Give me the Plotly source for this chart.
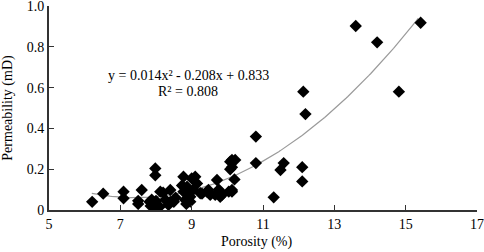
import numpy as np
import plotly.graph_objects as go

porosity = [6.21, 6.52, 7.09, 7.09, 7.6, 7.5, 7.5, 7.98, 7.98,
            7.85, 7.9, 7.95, 8.0, 8.05, 7.88, 8.1, 7.82,
            8.12, 8.2, 8.26, 8.4, 8.5, 8.35, 8.55, 8.4,
            8.77, 8.73, 8.87, 9.0, 9.15, 9.1,
            8.77, 8.91, 8.96, 8.82, 8.96, 8.85, 9.05,
            9.24, 9.29, 9.43, 9.52, 9.66, 9.47,
            9.71, 9.8, 9.85, 9.76, 9.8,
            10.13, 10.04, 10.13, 10.2,
            10.08, 10.13, 10.22, 10.13, 10.08,
            10.8, 10.8, 11.3, 11.58, 11.49,
            12.1, 12.1, 12.13, 12.19,
            13.6, 14.2, 14.81, 15.42]
permeability = [0.04, 0.08, 0.09, 0.057, 0.098, 0.045, 0.03, 0.204, 0.17,
                0.02, 0.035, 0.01, 0.045, 0.025, 0.05, 0.015, 0.04,
                0.09, 0.085, 0.05, 0.04, 0.04, 0.025, 0.06, 0.098,
                0.163, 0.12, 0.114, 0.155, 0.13, 0.163,
                0.09, 0.082, 0.065, 0.049, 0.041, 0.03, 0.1,
                0.082, 0.08, 0.09, 0.074, 0.074, 0.098,
                0.147, 0.09, 0.074, 0.1, 0.065,
                0.09, 0.09, 0.098, 0.15,
                0.237, 0.245, 0.245, 0.21, 0.2,
                0.36, 0.23, 0.062, 0.23, 0.196,
                0.21, 0.14, 0.58, 0.47,
                0.902, 0.822, 0.58, 0.918]

# Trendline coefficients as printed on the chart
trend_coeffs = [0.014, -0.208, 0.833]
trend_range = [6.2, 15.35]

x_ticks = [5, 7, 9, 11, 13, 15, 17]
y_ticks = [0, 0.2, 0.4, 0.6, 0.8, 1.0]
y_ticktext = ["0", "0.2", "0.4", "0.6", "0.8", "1.0"]

tx = np.linspace(trend_range[0], trend_range[1], 200)
ty = np.polyval(trend_coeffs, tx)

FONT = "Times New Roman, Liberation Serif, serif"

fig = go.Figure()
fig.add_trace(go.Scatter(x=tx, y=ty, mode="lines",
                         line=dict(color="#9a9a9a", width=1.2),
                         hoverinfo="skip", showlegend=False))
fig.add_trace(go.Scatter(x=porosity, y=permeability, mode="markers",
                         marker=dict(symbol="diamond", size=9.5, color="black",
                                     line=dict(width=0)),
                         showlegend=False))

fig.add_annotation(x=8.9, y=0.66, text="y = 0.014x² - 0.208x + 0.833",
                   showarrow=False, font=dict(family=FONT, size=14, color="black"))
fig.add_annotation(x=8.9, y=0.58, text="R² = 0.808",
                   showarrow=False, font=dict(family=FONT, size=14, color="black"))
# x-axis title placed explicitly so it stays inside the page
fig.add_annotation(x=0.485, xref="paper", y=0, yref="paper", yshift=-32,
                   yanchor="middle", text="Porosity (%)", showarrow=False,
                   font=dict(family=FONT, size=14, color="black"))

fig.update_layout(
    width=484, height=252,
    margin=dict(l=49, r=7, t=6, b=42, autoexpand=False),
    paper_bgcolor="white", plot_bgcolor="white",
    font=dict(family=FONT, size=14, color="black"),
)
fig.update_xaxes(range=[5, 17], tickvals=x_ticks, showgrid=False, zeroline=False,
                 showline=True, linecolor="#333333", linewidth=1.5,
                 ticks="inside", ticklen=5, tickcolor="#333333",
                 automargin=False, ticklabeloverflow="allow",
                 tickfont=dict(family=FONT, size=14))
fig.update_yaxes(range=[0, 1.0], tickvals=y_ticks, ticktext=y_ticktext,
                 showgrid=False, zeroline=False,
                 showline=True, linecolor="#333333", linewidth=2,
                 ticks="inside", ticklen=5, tickcolor="#333333",
                 automargin=False, ticklabeloverflow="allow",
                 tickfont=dict(family=FONT, size=14),
                 title=dict(text="Permeability (mD)", font=dict(family=FONT, size=14), standoff=16))

fig.write_html("out.html", config={"displayModeBar": False},
               post_script="document.body.style.margin='0';document.body.style.overflow='hidden';")
